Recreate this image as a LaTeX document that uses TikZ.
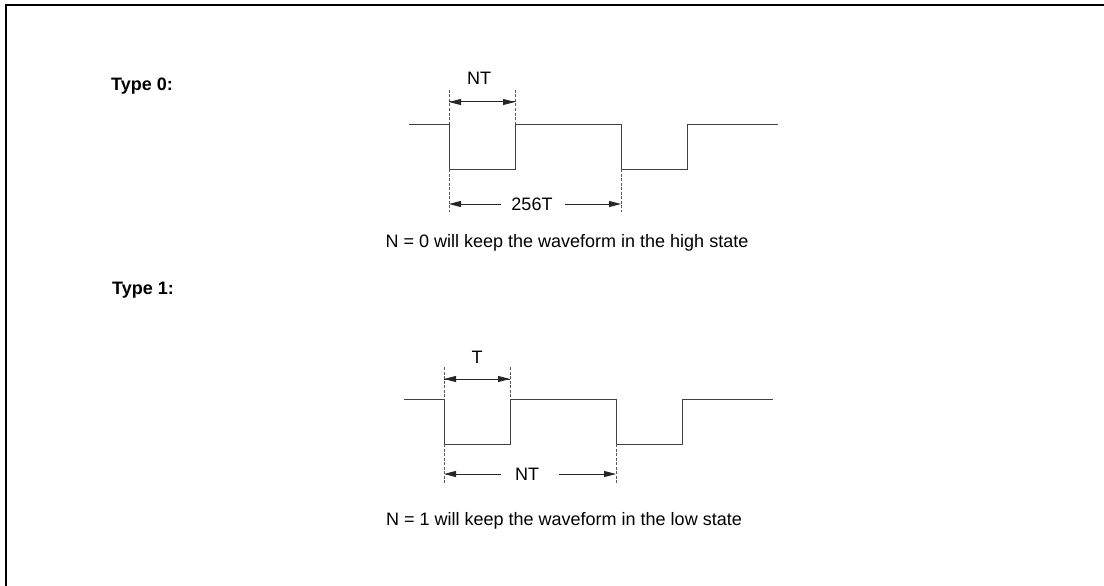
\documentclass[tikz,border=0pt]{standalone}
\usepackage{fontspec}
\setmainfont{Liberation Sans}
\usetikzlibrary{arrows.meta}
\begin{document}
\begin{tikzpicture}[x=1pt,y=-1pt,
  wave/.style={line width=1pt, draw=black!75},
  ext/.style={line width=0.6pt, draw=black!65, dash pattern=on 3pt off 1.5pt},
  dim/.style={line width=1pt, draw=black!85, -{Triangle[length=12pt,width=6pt]}},
  lbl/.style={font=\fontsize{18}{22}\selectfont, inner sep=0pt},
  ttl/.style={font=\fontsize{18}{22}\selectfont\bfseries, inner sep=0pt},
  frame/.style={line width=2pt, draw=black}]
\useasboundingbox (0,0) rectangle (1104,586);
\draw[frame] (1104,5) -- (6,5) -- (6,586);

% ---------- Type 0 ----------
\node[ttl] (t0) at (142,86) {Type 0:};
\draw[wave] (409,124) -- (449,124) -- (449,169) -- (515,169) -- (515,124)
  -- (621,124) -- (621,169) -- (687,169) -- (687,124) -- (778,124);
\coordinate (a0t) at (449,90);   \coordinate (a0h) at (449,124);
\coordinate (b0t) at (515,90);   \coordinate (b0h) at (515,124);
\coordinate (a0l) at (449,169);  \coordinate (a0b) at (449,212);
\coordinate (c0l) at (621,169);  \coordinate (c0b) at (621,212);
\draw[ext] (a0t) -- (a0h);
\draw[ext] (b0t) -- (b0h);
\draw[ext] (a0l) -- (a0b);
\draw[ext] (c0l) -- (c0b);
\coordinate (nt0l) at (449,102); \coordinate (nt0r) at (515,102);
\draw[dim] (nt0r) -- (nt0l);
\draw[dim] (nt0l) -- (nt0r);
\node[lbl] (nt0) at (479,78) {NT};
\node[lbl] (p0) at (532,204) {256T};
\coordinate (p0l) at (449,204); \coordinate (p0r) at (621,204);
\draw[dim] (p0.west) ++(-10,0) coordinate (p0a) (p0a) -- (p0l);
\draw[dim] (p0.east) ++(12,0) coordinate (p0b) (p0b) -- (p0r);
\node[lbl] (n0) at (567,243) {N = 0 will keep the waveform in the high state};

% ---------- Type 1 ----------
\node[ttl] (t1) at (143,290) {Type 1:};
\draw[wave] (404,399) -- (444,399) -- (444,444) -- (510,444) -- (510,399)
  -- (616,399) -- (616,444) -- (682,444) -- (682,399) -- (773,399);
\coordinate (a1t) at (444,367);  \coordinate (a1h) at (444,399);
\coordinate (b1t) at (510,367);  \coordinate (b1h) at (510,399);
\coordinate (a1l) at (444,444);  \coordinate (a1b) at (444,483);
\coordinate (c1l) at (616,444);  \coordinate (c1b) at (616,483);
\draw[ext] (a1t) -- (a1h);
\draw[ext] (b1t) -- (b1h);
\draw[ext] (a1l) -- (a1b);
\draw[ext] (c1l) -- (c1b);
\coordinate (t1l) at (444,379); \coordinate (t1r) at (510,379);
\draw[dim] (t1r) -- (t1l);
\draw[dim] (t1l) -- (t1r);
\node[lbl] (tt1) at (477,357) {T};
\node[lbl] (p1) at (527,474) {NT};
\coordinate (p1l) at (444,474); \coordinate (p1r) at (616,474);
\draw[dim] (p1.west) ++(-14,0) coordinate (p1a) (p1a) -- (p1l);
\draw[dim] (p1.east) ++(20,0) coordinate (p1b) (p1b) -- (p1r);
\node[lbl] (n1) at (564,521) {N = 1 will keep the waveform in the low state};
\end{tikzpicture}
\end{document}
